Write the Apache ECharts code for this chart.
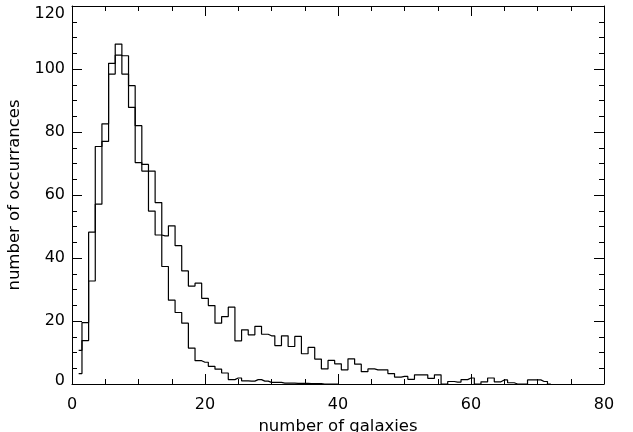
<!DOCTYPE html>
<html>
<head>
<meta charset="utf-8">
<script src="https://cdn.jsdelivr.net/npm/echarts@6/dist/echarts.min.js"></script>
<style>
  html, body { margin: 0; padding: 0; background: #fff; }
  #chart { width: 633px; height: 432px; }
</style>
</head>
<body>
<div id="chart"></div>
<script>
// bin centres (number of galaxies)
const galaxyBins = [
  1, 2, 3, 4, 5, 6, 7, 8, 9, 10, 11, 12, 13, 14, 15, 16, 17, 18, 19, 20,
  21, 22, 23, 24, 25, 26, 27, 28, 29, 30, 31, 32, 33, 34, 35, 36, 37, 38, 39, 40,
  41, 42, 43, 44, 45, 46, 47, 48, 49, 50, 51, 52, 53, 54, 55, 56, 57, 58, 59, 60,
  61, 62, 63, 64, 65, 66, 67, 68, 69, 70, 71, 72,
];

// narrow distribution (bins 1..40)
const narrowCounts = [
  3.3, 19.5, 48.2, 75.4, 82.6, 101.8, 107.9, 104.2, 94.7, 82.0,
  69.7, 67.6, 57.6, 37.3, 26.6, 22.7, 19.3, 11.4, 7.4, 6.9,
  5.6, 4.7, 3.5, 1.4, 1.9, 1.0, 0.9, 1.4, 0.9, 0.5,
  0.5, 0.3, 0.3, 0.2, 0.2, 0.1, 0.1, 0, 0, 0,
];

// broad distribution with long tail (bins 1..72)
const broadCounts = [
  10.7, 13.8, 32.7, 57.1, 77.0, 98.4, 104.4, 98.4, 87.8, 70.3,
  67.6, 54.9, 47.3, 47.0, 50.2, 43.9, 35.9, 31.1, 32.0, 27.2,
  24.9, 19.3, 21.4, 24.4, 13.7, 17.2, 15.6, 18.3, 15.8, 15.3,
  12.2, 15.3, 11.9, 15.1, 9.6, 11.6, 7.9, 4.8, 7.5, 6.4,
  4.5, 8.0, 6.3, 3.9, 4.8, 4.5, 4.5, 3.3, 2.2, 2.4,
  1.5, 2.9, 2.9, 1.8, 2.9, 0, 0.8, 0.6, 1.4, 1.9,
  0, 0.7, 1.9, 0.7, 1.3, 0.4, 0, 0, 1.3, 1.3,
  0.8, 0,
];

const xTicks = { min: 0, max: 80, interval: 20 };
const yTicks = { min: 0, max: 120, interval: 20 };

const pairs = (counts) => counts.map((v, i) => [galaxyBins[i], v]);

const font = 'DejaVu Sans';
const ink = '#000';

const frameAxis = (extra) => Object.assign({
  type: 'value',
  axisLine: { show: true, onZero: false, lineStyle: { color: ink, width: 1 } },
  axisTick: { show: true, inside: true, length: 10, lineStyle: { color: ink, width: 1 } },
  minorTick: { show: true, splitNumber: 4, length: 5, lineStyle: { color: ink, width: 1 } },
  splitLine: { show: false },
  minorSplitLine: { show: false },
}, extra);

const chart = echarts.init(document.getElementById('chart'), null, { renderer: 'canvas' });

const option = {
  backgroundColor: '#fff',
  animation: false,
  grid: { left: 72, right: 29, top: 6, bottom: 48, containLabel: false, outerBoundsMode: 'none' },
  xAxis: [
    frameAxis({
      position: 'bottom',
      min: xTicks.min, max: xTicks.max, interval: xTicks.interval,
      name: 'number of galaxies',
      nameLocation: 'middle',
      nameGap: 29,
      nameTextStyle: { color: ink, fontFamily: font, fontSize: 16.5 },
      axisLabel: { color: ink, fontFamily: font, fontSize: 16, margin: 13 },
    }),
    frameAxis({
      position: 'top',
      min: xTicks.min, max: xTicks.max, interval: xTicks.interval,
      axisLabel: { show: false },
    }),
  ],
  yAxis: [
    frameAxis({
      position: 'left',
      min: yTicks.min, max: yTicks.max, interval: yTicks.interval,
      name: 'number of occurrances',
      nameLocation: 'middle',
      nameGap: 44,
      nameRotate: 90,
      nameTextStyle: { color: ink, fontFamily: font, fontSize: 16.5 },
      axisLabel: {
        color: ink, fontFamily: font, fontSize: 16, margin: 7,
        formatter: (v) => (v === yTicks.max ? '{top|' + v + '}' : v === yTicks.min ? '{bot|' + v + '}' : String(v)),
        rich: {
          top: { fontFamily: font, fontSize: 16, color: ink, padding: [15, 0, 0, 0] },
          bot: { fontFamily: font, fontSize: 16, color: ink, padding: [0, 0, 7, 0] },
        },
      },
    }),
    frameAxis({
      position: 'right',
      min: yTicks.min, max: yTicks.max, interval: yTicks.interval,
      axisLabel: { show: false },
    }),
  ],
  series: [
    {
      name: 'broad',
      type: 'line',
      step: 'middle',
      showSymbol: false,
      xAxisIndex: 0,
      yAxisIndex: 0,
      lineStyle: { color: ink, width: 1.2 },
      data: pairs(broadCounts),
    },
    {
      name: 'narrow',
      type: 'line',
      step: 'middle',
      showSymbol: false,
      xAxisIndex: 0,
      yAxisIndex: 0,
      lineStyle: { color: ink, width: 1.2 },
      data: pairs(narrowCounts),
    },
  ],
};

chart.setOption(option);
</script>
</body>
</html>
